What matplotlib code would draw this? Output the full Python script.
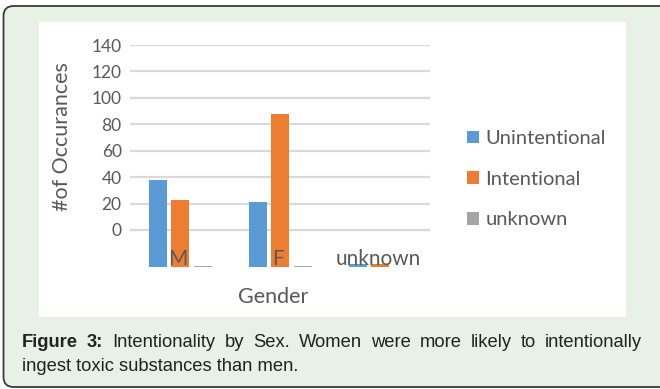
import matplotlib.pyplot as plt
import numpy as np
from matplotlib.patches import FancyBboxPatch, Rectangle

# bar heights above the drawn baseline, in axis units
categories = ["M", "F", "unknown"]
unintentional = [66, 49, 2.5]
intentional = [51, 116, 2]
unknown = [1, 1, 0]
series_names = ["Unintentional", "Intentional", "unknown"]
colors = ["#5B9BD5", "#ED7D31", "#A5A5A5"]

tick_labels = [0, 20, 40, 60, 80, 100, 120, 140]
tick_offset = 28  # the printed axis sits above the bar baseline

caption_line1 = ["Intentionality", "by", "Sex.", "Women", "were", "more",
                 "likely", "to", "intentionally"]
caption_line2 = "ingest toxic substances than men."

plt.rcParams['font.family'] = ['Lato', 'DejaVu Sans']
TXT = "#595959"

fig = plt.figure(figsize=(6.6, 3.89), dpi=100)

# green caption frame and the white chart panel
frame = FancyBboxPatch((0.035, 0.02), 6.7, 3.81,
                       boxstyle="round,pad=0,rounding_size=0.1",
                       transform=fig.dpi_scale_trans, facecolor="#E7F1E5",
                       edgecolor="#3a3a3a", linewidth=1.3, zorder=-2)
fig.patches.append(frame)
panel = Rectangle((0.39, 0.72), 5.87, 2.95, transform=fig.dpi_scale_trans,
                  facecolor="white", edgecolor="none", zorder=-1)
fig.patches.append(panel)

ax = fig.add_axes([130 / 660, (389 - 267) / 389, 300 / 660, 222 / 389])
ax.set_facecolor("none")
x = np.arange(len(categories))
w = 0.18
for k, vals in enumerate([unintentional, intentional, unknown]):
    ax.bar(x + (k - 1) * 0.225, vals, width=w, color=colors[k],
           label=series_names[k], zorder=2)

ax.set_xlim(-0.5, 2.5)
ax.set_ylim(0, 168)
ticks = [t + tick_offset for t in tick_labels]
for t in ticks:
    ax.axhline(t, color="#D9D9D9", linewidth=1.6, zorder=1)
ax.set_yticks(ticks)
ax.set_yticklabels([str(t) for t in tick_labels], color=TXT, fontsize=12.5)
ax.tick_params(axis="y", length=0, pad=6)
ax.set_xticks([])
for s in ax.spines.values():
    s.set_visible(False)

for i, c in enumerate(categories):
    ax.text(i - 0.02, 6, c, ha="center", va="center", color=TXT,
            fontsize=15, zorder=3)

fig.text(62 / 660, 1 - 137 / 389, "#of Occurances", rotation=90,
         ha="center", va="center", color=TXT, fontsize=15.5)
fig.text(273 / 660, 1 - 297 / 389, "Gender", ha="center", va="center",
         color=TXT, fontsize=15.5)

fig.legend(loc="upper left", bbox_to_anchor=(449 / 660, 1 - 112 / 389),
           frameon=False, fontsize=14.5, labelcolor=TXT, handlelength=0.6,
           handleheight=0.6, handletextpad=0.3, labelspacing=1.17)

# justified first caption line
renderer = fig.canvas.get_renderer()
cap_font = dict(family="Liberation Sans", fontsize=13.2, color="#222222")
y1 = 1 - 347 / 389
y2 = 1 - 371 / 389
words = [("Figure", "bold"), ("3:", "bold")] + [(wd, "normal") for wd in caption_line1]
texts = [fig.text(0, y1, wd, fontweight=fw, va="baseline", **cap_font)
         for wd, fw in words]
widths = [t.get_window_extent(renderer).width for t in texts]
x0, x1 = 22, 642
gap = (x1 - x0 - sum(widths)) / (len(texts) - 1)
pos = x0
for t, wd in zip(texts, widths):
    t.set_x(pos / 660)
    pos += wd + gap
fig.text(x0 / 660, y2, caption_line2, va="baseline", **cap_font)

fig.savefig("out.png", dpi=100)
